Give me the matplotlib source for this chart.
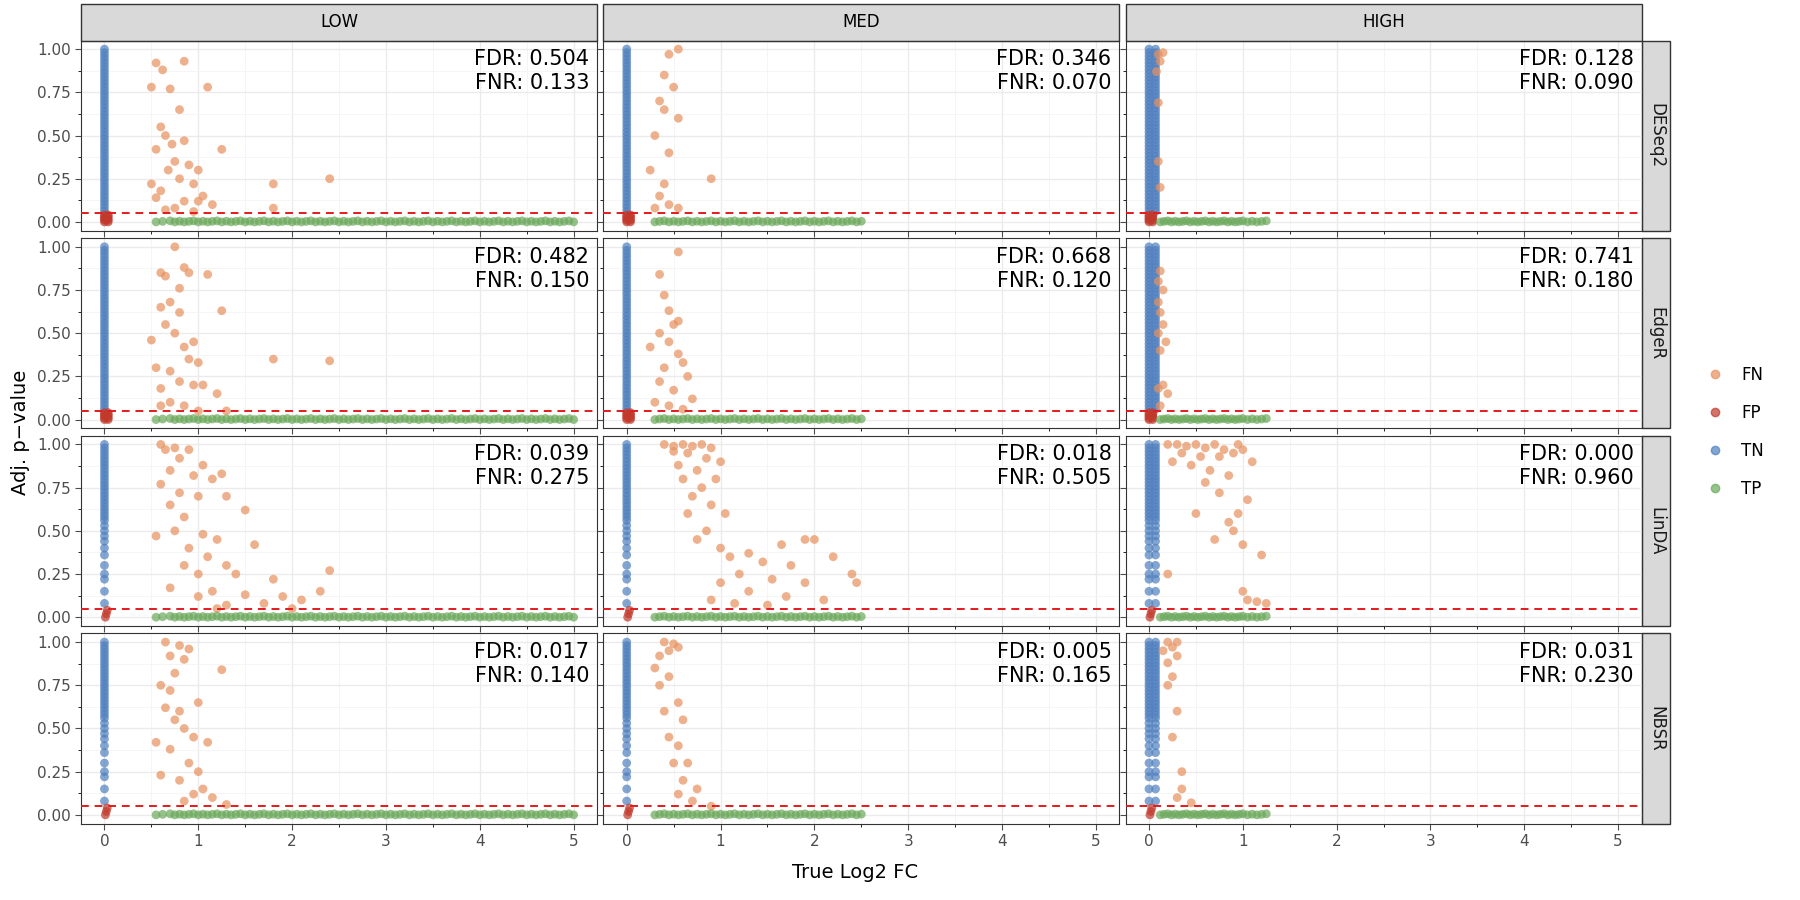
import numpy as np
import matplotlib.pyplot as plt

methods = ["DESeq2", "EdgeR", "LinDA", "NBSR"]
levels = ["LOW", "MED", "HIGH"]

fdr = [[0.504, 0.346, 0.128],
       [0.482, 0.668, 0.741],
       [0.039, 0.018, 0.000],
       [0.017, 0.005, 0.031]]
fnr = [[0.133, 0.070, 0.090],
       [0.150, 0.120, 0.180],
       [0.275, 0.505, 0.960],
       [0.140, 0.165, 0.230]]

# true negatives: solid column at x ~ 0
tn_y_full = [0.06, 0.08, 0.10, 0.12, 0.14, 0.16, 0.18, 0.20, 0.22, 0.24, 0.26, 0.28, 0.30,
             0.32, 0.34, 0.36, 0.38, 0.40, 0.42, 0.44, 0.46, 0.48, 0.50, 0.52, 0.54, 0.56,
             0.58, 0.60, 0.62, 0.64, 0.66, 0.68, 0.70, 0.72, 0.74, 0.76, 0.78, 0.80, 0.82,
             0.84, 0.86, 0.88, 0.90, 0.92, 0.94, 0.96, 0.98, 1.00]
tn_y_sparse = [0.08, 0.15, 0.22, 0.25, 0.30, 0.36, 0.40, 0.44, 0.47, 0.50, 0.53, 0.56,
               0.58, 0.60, 0.62, 0.64, 0.66, 0.68, 0.70, 0.72, 0.74, 0.76, 0.78, 0.80,
               0.82, 0.84, 0.86, 0.88, 0.90, 0.92, 0.94, 0.96, 0.98, 1.00]
fp_y = [0.0, 0.01, 0.02, 0.03, 0.04]

# false negatives (x, y) per panel
fn_low_deseq2 = [(0.55,0.92),(0.62,0.88),(0.85,0.93),(0.5,0.78),(0.7,0.77),(1.1,0.78),(0.8,0.65),
                 (0.6,0.55),(0.65,0.5),(0.72,0.45),(0.85,0.47),(0.55,0.42),(0.75,0.35),(0.9,0.33),
                 (1.0,0.3),(0.68,0.3),(1.25,0.42),(0.8,0.25),(0.95,0.22),(0.5,0.22),(0.6,0.18),
                 (1.05,0.15),(0.85,0.12),(1.15,0.1),(0.75,0.08),(0.95,0.06),(1.8,0.22),(2.4,0.25),
                 (1.8,0.08),(0.65,0.07),(1.0,0.12),(0.55,0.14)]
fn_med_deseq2 = [(0.45,0.97),(0.55,1.0),(0.4,0.85),(0.5,0.78),(0.35,0.7),(0.4,0.65),(0.55,0.6),
                 (0.3,0.5),(0.45,0.4),(0.25,0.3),(0.4,0.22),(0.35,0.15),(0.45,0.1),(0.55,0.08),
                 (0.9,0.25),(0.3,0.08)]
fn_high_deseq2 = [(0.1,0.97),(0.15,0.98),(0.12,0.93),(0.08,0.87),(0.1,0.69),(0.12,0.2),(0.1,0.35)]
fn_low_edger = [(0.75,1.0),(0.6,0.85),(0.65,0.83),(0.85,0.88),(0.9,0.85),(1.1,0.84),(0.8,0.76),
                (0.7,0.68),(0.6,0.65),(0.8,0.62),(1.25,0.63),(0.65,0.55),(0.75,0.5),(0.5,0.46),
                (0.95,0.45),(0.85,0.42),(0.55,0.3),(0.7,0.28),(0.9,0.35),(1.0,0.33),(0.8,0.22),
                (0.6,0.18),(0.95,0.2),(1.05,0.2),(1.2,0.15),(0.7,0.1),(0.85,0.08),(1.0,0.05),
                (1.8,0.35),(2.4,0.34),(1.3,0.05),(0.6,0.08)]
fn_med_edger = [(0.35,0.84),(0.55,0.97),(0.4,0.72),(0.45,0.63),(0.55,0.57),(0.5,0.55),(0.35,0.5),
                (0.45,0.45),(0.25,0.42),(0.55,0.38),(0.6,0.33),(0.4,0.3),(0.65,0.25),(0.35,0.22),
                (0.5,0.17),(0.7,0.12),(0.45,0.08),(0.6,0.06),(0.3,0.1)]
fn_high_edger = [(0.12,0.86),(0.1,0.8),(0.15,0.75),(0.1,0.68),(0.12,0.62),(0.15,0.55),(0.1,0.5),
                 (0.18,0.45),(0.12,0.4),(0.15,0.2),(0.1,0.18),(0.2,0.15),(0.12,0.08)]
fn_low_linda = [(0.6,1.0),(0.65,0.97),(0.75,0.98),(0.9,0.97),(0.8,0.92),(1.05,0.88),(0.7,0.85),
                (0.95,0.82),(1.15,0.8),(1.25,0.83),(0.6,0.77),(0.8,0.72),(1.0,0.7),(0.7,0.65),
                (1.3,0.7),(0.85,0.58),(1.5,0.62),(0.55,0.47),(0.75,0.5),(1.05,0.48),(1.2,0.45),
                (0.9,0.4),(1.1,0.35),(1.3,0.3),(1.6,0.42),(0.85,0.3),(1.0,0.25),(1.4,0.25),
                (1.8,0.22),(0.7,0.17),(1.15,0.15),(1.5,0.13),(2.4,0.27),(2.3,0.15),(1.9,0.12),
                (2.1,0.1),(1.0,0.12),(1.7,0.08),(1.3,0.07),(2.0,0.05),(1.2,0.05)]
fn_med_linda = [(0.4,1.0),(0.5,0.99),(0.6,1.0),(0.7,0.99),(0.8,1.0),(0.9,0.98),(0.5,0.96),
                (0.65,0.95),(0.85,0.92),(1.0,0.9),(0.55,0.88),(0.75,0.85),(0.95,0.8),(0.6,0.8),
                (0.8,0.75),(0.7,0.7),(0.9,0.65),(1.05,0.6),(0.65,0.6),(0.85,0.5),(0.75,0.45),
                (1.0,0.4),(1.9,0.45),(2.0,0.45),(1.65,0.42),(1.3,0.37),(1.1,0.35),(1.45,0.32),
                (1.75,0.3),(2.2,0.35),(1.2,0.25),(1.55,0.22),(1.9,0.2),(2.4,0.25),(2.45,0.2),
                (1.0,0.2),(1.3,0.15),(1.7,0.12),(2.1,0.1),(1.15,0.08),(1.5,0.07),(0.9,0.1)]
fn_high_linda = [(0.2,1.0),(0.3,1.0),(0.4,0.99),(0.5,1.0),(0.6,0.98),(0.7,1.0),(0.8,0.97),
                 (0.95,1.0),(1.0,0.97),(0.35,0.95),(0.55,0.93),(0.75,0.93),(0.9,0.95),(1.1,0.9),
                 (0.25,0.9),(0.45,0.88),(0.65,0.85),(0.85,0.82),(0.6,0.78),(0.75,0.72),(1.05,0.68),
                 (0.95,0.6),(0.85,0.55),(0.9,0.5),(1.0,0.42),(1.2,0.36),(0.2,0.25),(1.0,0.15),
                 (1.05,0.1),(1.15,0.09),(1.25,0.08),(0.5,0.6),(0.7,0.45)]
fn_low_nbsr = [(0.65,1.0),(0.8,0.98),(0.9,0.96),(0.7,0.92),(0.85,0.9),(1.25,0.84),(0.75,0.82),
               (0.6,0.75),(0.7,0.72),(0.65,0.62),(0.8,0.6),(1.0,0.65),(0.75,0.55),(0.85,0.5),
               (0.55,0.42),(0.95,0.45),(1.1,0.42),(0.7,0.38),(0.9,0.3),(1.0,0.25),(0.8,0.2),
               (1.05,0.15),(0.95,0.12),(1.15,0.1),(0.85,0.08),(1.3,0.06),(0.6,0.23)]
fn_med_nbsr = [(0.4,1.0),(0.5,0.99),(0.55,0.97),(0.45,0.95),(0.35,0.92),(0.3,0.85),(0.45,0.8),
               (0.35,0.75),(0.55,0.65),(0.4,0.6),(0.6,0.55),(0.45,0.45),(0.55,0.4),(0.5,0.3),
               (0.65,0.3),(0.6,0.2),(0.75,0.15),(0.55,0.12),(0.7,0.08),(0.9,0.05)]
fn_high_nbsr = [(0.2,1.0),(0.3,1.0),(0.25,0.97),(0.15,0.95),(0.3,0.92),(0.2,0.88),(0.25,0.8),
                (0.2,0.75),(0.3,0.6),(0.25,0.45),(0.35,0.25),(0.3,0.1),(0.45,0.07),(0.35,0.15)]

# true positives: x positions along y ~ 0
tp_low = [0.55, 0.62, 0.7, 0.75, 0.8, 0.85, 0.9, 0.95, 1.0, 1.05, 1.1, 1.15, 1.2, 1.25, 1.3,
          1.35, 1.4, 1.45, 1.5, 1.55, 1.6, 1.65, 1.7, 1.75, 1.8, 1.85, 1.9, 1.95, 2.0, 2.05,
          2.1, 2.15, 2.2, 2.25, 2.3, 2.35, 2.4, 2.45, 2.5, 2.55, 2.6, 2.65, 2.7, 2.75, 2.8,
          2.85, 2.9, 2.95, 3.0, 3.05, 3.1, 3.15, 3.2, 3.25, 3.3, 3.35, 3.4, 3.45, 3.5, 3.55,
          3.6, 3.65, 3.7, 3.75, 3.8, 3.85, 3.9, 3.95, 4.0, 4.05, 4.1, 4.15, 4.2, 4.25, 4.3,
          4.35, 4.4, 4.45, 4.5, 4.55, 4.6, 4.65, 4.7, 4.75, 4.8, 4.85, 4.9, 4.95, 5.0]
tp_med = [0.3, 0.35, 0.4, 0.45, 0.5, 0.55, 0.6, 0.65, 0.7, 0.75, 0.8, 0.85, 0.9, 0.95, 1.0,
          1.05, 1.1, 1.15, 1.2, 1.25, 1.3, 1.35, 1.4, 1.45, 1.5, 1.55, 1.6, 1.65, 1.7, 1.75,
          1.8, 1.85, 1.9, 1.95, 2.0, 2.05, 2.1, 2.15, 2.2, 2.25, 2.3, 2.35, 2.4, 2.45, 2.5]
tp_high = [0.12, 0.16, 0.2, 0.24, 0.28, 0.32, 0.36, 0.4, 0.44, 0.48, 0.52, 0.56, 0.6, 0.64,
           0.68, 0.72, 0.76, 0.8, 0.84, 0.88, 0.92, 0.96, 1.0, 1.05, 1.1, 1.15, 1.2, 1.25]
tp_y = [0.0, 0.003, 0.006, 0.0, 0.004]

fn_all = [[fn_low_deseq2, fn_med_deseq2, fn_high_deseq2],
          [fn_low_edger, fn_med_edger, fn_high_edger],
          [fn_low_linda, fn_med_linda, fn_high_linda],
          [fn_low_nbsr, fn_med_nbsr, fn_high_nbsr]]
tp_all = [tp_low, tp_med, tp_high]

C_FN, C_FP, C_TN, C_TP = "#E8915F", "#C1392B", "#4F7FBF", "#6AA85A"

fig, axes = plt.subplots(4, 3, figsize=(18, 9), dpi=100, sharex=True, sharey=True)
fig.subplots_adjust(left=0.045, right=0.912, top=0.955, bottom=0.195, wspace=0.012, hspace=0.04)
fig.subplots_adjust(bottom=0.085)

for i, m in enumerate(methods):
    for j, lv in enumerate(levels):
        ax = axes[i, j]
        ax.set_facecolor("white")
        ax.grid(True, color="#EBEBEB", lw=1.0, zorder=0)
        ax.set_xticks(np.arange(0, 6, 0.5), minor=True)
        ax.set_yticks([0.125, 0.375, 0.625, 0.875], minor=True)
        ax.grid(True, which="minor", color="#F4F4F4", lw=0.6, zorder=0)
        ax.set_axisbelow(True)
        tny = tn_y_full if i < 2 else tn_y_sparse
        tnx = [0.0] * len(tny)
        if j == 2:
            tnx = tnx + [0.07] * len(tny)
            tny = tny + tny
        kw = dict(s=40, alpha=0.7, edgecolors="none", zorder=3)
        ax.scatter(tnx, tny, color=C_TN, **kw)
        if i >= 2:
            ax.scatter([0.01, 0.03, 0.02], [0.0, 0.04, 0.02], color=C_FP, **kw)
        else:
            ax.scatter([0.0] * len(fp_y) + [0.04] * len(fp_y), fp_y + fp_y, color=C_FP, **kw)
        fx, fy = zip(*fn_all[i][j])
        ax.scatter(fx, fy, color=C_FN, **kw)
        tx = tp_all[j]
        ty = [tp_y[k % len(tp_y)] for k in range(len(tx))]
        ax.scatter(tx, ty, color=C_TP, **kw)
        ax.axhline(0.05, color="#E41A1C", ls=(0, (4, 3)), lw=1.4, zorder=4)
        ax.text(0.985, 0.955, f"FDR: {fdr[i][j]:.3f}\nFNR: {fnr[i][j]:.3f}", transform=ax.transAxes,
                ha="right", va="top", fontsize=15, linespacing=1.25)
        ax.set_xlim(-0.25, 5.25)
        ax.set_ylim(-0.05, 1.05)
        ax.set_xticks(range(6))
        ax.set_yticks([0, 0.25, 0.5, 0.75, 1.0])
        ax.set_yticklabels(["0.00", "0.25", "0.50", "0.75", "1.00"])
        ax.tick_params(labelsize=11, colors="#4D4D4D", length=4)
        for s in ax.spines.values():
            s.set_color("#333333")
        if j == 2:
            ax.text(1.028, 0.5, m, transform=ax.transAxes, rotation=-90, ha="center",
                    va="center", fontsize=12, color="#1A1A1A")

# facet strips
for j in range(3):
    ax = axes[0, j]
    ax.add_patch(plt.Rectangle((0, 1.0), 1, 0.19, transform=ax.transAxes, fc="#D9D9D9",
                               ec="#333333", clip_on=False))
    ax.text(0.5, 1.095, levels[j], transform=ax.transAxes, ha="center", va="center", fontsize=12)
for i in range(4):
    ax = axes[i, 2]
    ax.add_patch(plt.Rectangle((1.0, 0), 0.055, 1, transform=ax.transAxes, fc="#D9D9D9",
                               ec="#333333", clip_on=False, zorder=-1))

fig.text(0.475, 0.025, "True Log2 FC", ha="center", fontsize=14)
fig.text(0.006, 0.52, "Adj. p\u2212value", rotation=90, va="center", fontsize=14)

handles = [plt.Line2D([], [], ls="", marker="o", ms=6, color=c, alpha=0.7)
           for c in (C_FN, C_FP, C_TN, C_TP)]
fig.legend(handles, ["FN", "FP", "TN", "TP"], loc="center left", bbox_to_anchor=(0.935, 0.52),
           frameon=False, fontsize=12, handletextpad=0.6, labelspacing=1.2)

fig.savefig("out.png", dpi=100)
